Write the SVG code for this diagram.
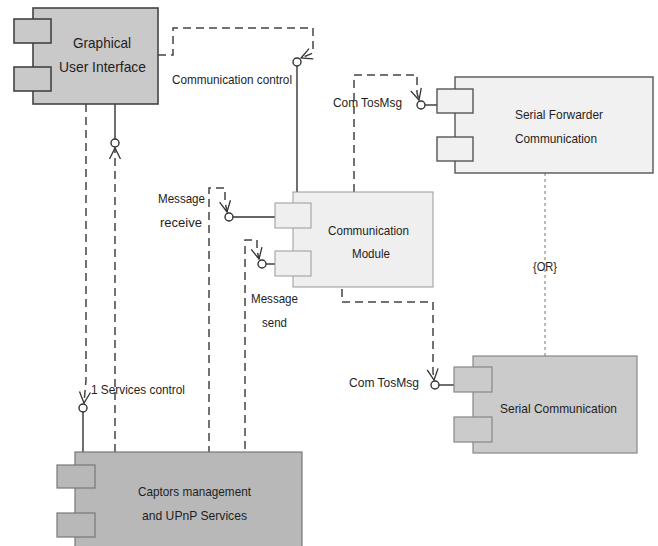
<svg xmlns="http://www.w3.org/2000/svg" width="658" height="546" viewBox="0 0 658 546">
  <style>
    text { font-family: "Liberation Sans", Arial, sans-serif; fill: #1e1e1e; font-size: 13.5px; }
    .mid-anchor { text-anchor: middle; }
    .dep { fill: none; stroke: #444; stroke-width: 1.5; stroke-dasharray: 8 5; }
    .wire { fill: none; stroke: #333; stroke-width: 1.4; }
    .ball { fill: #fff; stroke: #333; stroke-width: 1.4; }
    .or-link { fill: none; stroke: #777; stroke-width: 1; stroke-dasharray: 3 3; }
    .dark { fill: #c9c9c9; stroke: #444; stroke-width: 1.6; }
    .darker { fill: #b8b8b8; stroke: #777; stroke-width: 1.2; }
    .mid { fill: #cbcbcb; stroke: #888; stroke-width: 1.2; }
    .light { fill: #efefef; stroke: #999; stroke-width: 1; }
    .light-edge { fill: #f1f1f1; stroke: #555; stroke-width: 1.4; }
  </style>
  <defs>
    <marker id="open-arrow" markerUnits="userSpaceOnUse" markerWidth="16" markerHeight="16" viewBox="0 0 16 16" refX="12" refY="7" orient="auto">
      <path d="M1,1.5 L12,7 L1,12.5" fill="none" stroke="#333" stroke-width="1.3"/>
    </marker>
  </defs>

  <rect width="658" height="546" fill="#fff"/>

  <!-- connectors -->
  <g id="connectors">
    <!-- Communication control -->
    <path class="dep" d="M158,55 H173 V28 H313 V53 L301,58" marker-end="url(#open-arrow)"/>
    <circle class="ball" cx="297" cy="62" r="4"/>
    <path class="wire" d="M297,66 V192"/>

    <!-- GUI interface used by captors -->
    <path class="wire" d="M115,104 V139"/>
    <circle class="ball" cx="115" cy="143" r="4"/>
    <path class="dep" d="M115,452 V148" marker-end="url(#open-arrow)"/>

    <!-- Services control -->
    <path class="dep" d="M86,104 V380 L84,403" marker-end="url(#open-arrow)"/>
    <circle class="ball" cx="83" cy="408" r="4"/>
    <path class="wire" d="M83,412 V452"/>

    <!-- Message receive -->
    <path class="dep" d="M220,456 H209 V188 H225 V201 L227,212" marker-end="url(#open-arrow)"/>
    <circle class="ball" cx="229" cy="217" r="4"/>
    <path class="wire" d="M233,217 H278"/>

    <!-- Message send -->
    <path class="dep" d="M277,456 H245 V240 H257 V250 L259,259" marker-end="url(#open-arrow)"/>
    <circle class="ball" cx="262" cy="264" r="4"/>
    <path class="wire" d="M266,264 H278"/>

    <!-- Com TosMsg (serial forwarder) -->
    <path class="dep" d="M354,192 V75 H417 V93 L419,100" marker-end="url(#open-arrow)"/>
    <circle class="ball" cx="421" cy="105" r="4"/>
    <path class="wire" d="M425,105 H442"/>

    <!-- Com TosMsg (serial) -->
    <path class="dep" d="M342,276 V302 H433 V372 L434,380" marker-end="url(#open-arrow)"/>
    <circle class="ball" cx="435" cy="385" r="4"/>
    <path class="wire" d="M439,385 H458"/>

    <!-- alternative between the two serial components -->
    <path class="or-link" d="M545,173 V356"/>
  </g>

  <!-- Graphical User Interface -->
  <g id="gui">
    <rect class="dark" x="33" y="8" width="125" height="96"/>
    <rect class="dark" x="14" y="19" width="37" height="24"/>
    <rect class="dark" x="14" y="67" width="37" height="24"/>
    <text class="mid-anchor" x="102" y="48" style="font-size:14.5px" textLength="58" lengthAdjust="spacingAndGlyphs">Graphical</text>
    <text class="mid-anchor" x="102.5" y="72" style="font-size:14.5px" textLength="87" lengthAdjust="spacingAndGlyphs">User Interface</text>
  </g>

  <!-- Communication Module -->
  <g id="comm-module">
    <rect class="light" x="293" y="192" width="140" height="95"/>
    <rect class="light" x="275" y="203" width="36" height="25"/>
    <rect class="light" x="275" y="251" width="36" height="25"/>
    <text class="mid-anchor" x="368.5" y="235" textLength="81" lengthAdjust="spacingAndGlyphs">Communication</text>
    <text class="mid-anchor" x="371" y="258" textLength="38" lengthAdjust="spacingAndGlyphs">Module</text>
  </g>

  <!-- Serial Forwarder Communication -->
  <g id="serial-forwarder">
    <rect class="light-edge" x="455" y="77" width="198" height="96"/>
    <rect class="light-edge" x="437" y="89" width="36" height="24"/>
    <rect class="light-edge" x="437" y="137" width="36" height="24"/>
    <text x="515" y="119" textLength="88" lengthAdjust="spacingAndGlyphs">Serial Forwarder</text>
    <text x="515" y="143" textLength="82" lengthAdjust="spacingAndGlyphs">Communication</text>
  </g>

  <!-- Serial Communication -->
  <g id="serial-comm">
    <rect class="mid" x="473" y="356" width="164" height="97"/>
    <rect class="mid" x="454" y="367" width="38" height="25"/>
    <rect class="mid" x="454" y="417" width="38" height="25"/>
    <text x="500" y="413" textLength="117" lengthAdjust="spacingAndGlyphs">Serial Communication</text>
  </g>

  <!-- Captors management and UPnP Services -->
  <g id="captors">
    <rect class="darker" x="75" y="452" width="227" height="100"/>
    <rect class="darker" x="57" y="465" width="38" height="23"/>
    <rect class="darker" x="57" y="513" width="38" height="24"/>
    <text x="138" y="496" textLength="113" lengthAdjust="spacingAndGlyphs">Captors management</text>
    <text x="142" y="520" textLength="105" lengthAdjust="spacingAndGlyphs">and UPnP Services</text>
  </g>

  <!-- interface labels -->
  <g id="labels">
    <text x="172" y="84" textLength="120" lengthAdjust="spacingAndGlyphs">Communication control</text>
    <text x="333" y="107" textLength="69" lengthAdjust="spacingAndGlyphs">Com TosMsg</text>
    <text x="158" y="203" textLength="47" lengthAdjust="spacingAndGlyphs">Message</text>
    <text x="160" y="227" textLength="42" lengthAdjust="spacingAndGlyphs">receive</text>
    <text x="251" y="303" textLength="47" lengthAdjust="spacingAndGlyphs">Message</text>
    <text x="262" y="327" textLength="25" lengthAdjust="spacingAndGlyphs">send</text>
    <text x="349" y="387" textLength="70" lengthAdjust="spacingAndGlyphs">Com TosMsg</text>
    <text x="91" y="394" textLength="94" lengthAdjust="spacingAndGlyphs">1 Services control</text>
    <text x="533" y="271" textLength="24" lengthAdjust="spacingAndGlyphs">{OR}</text>
  </g>
</svg>
